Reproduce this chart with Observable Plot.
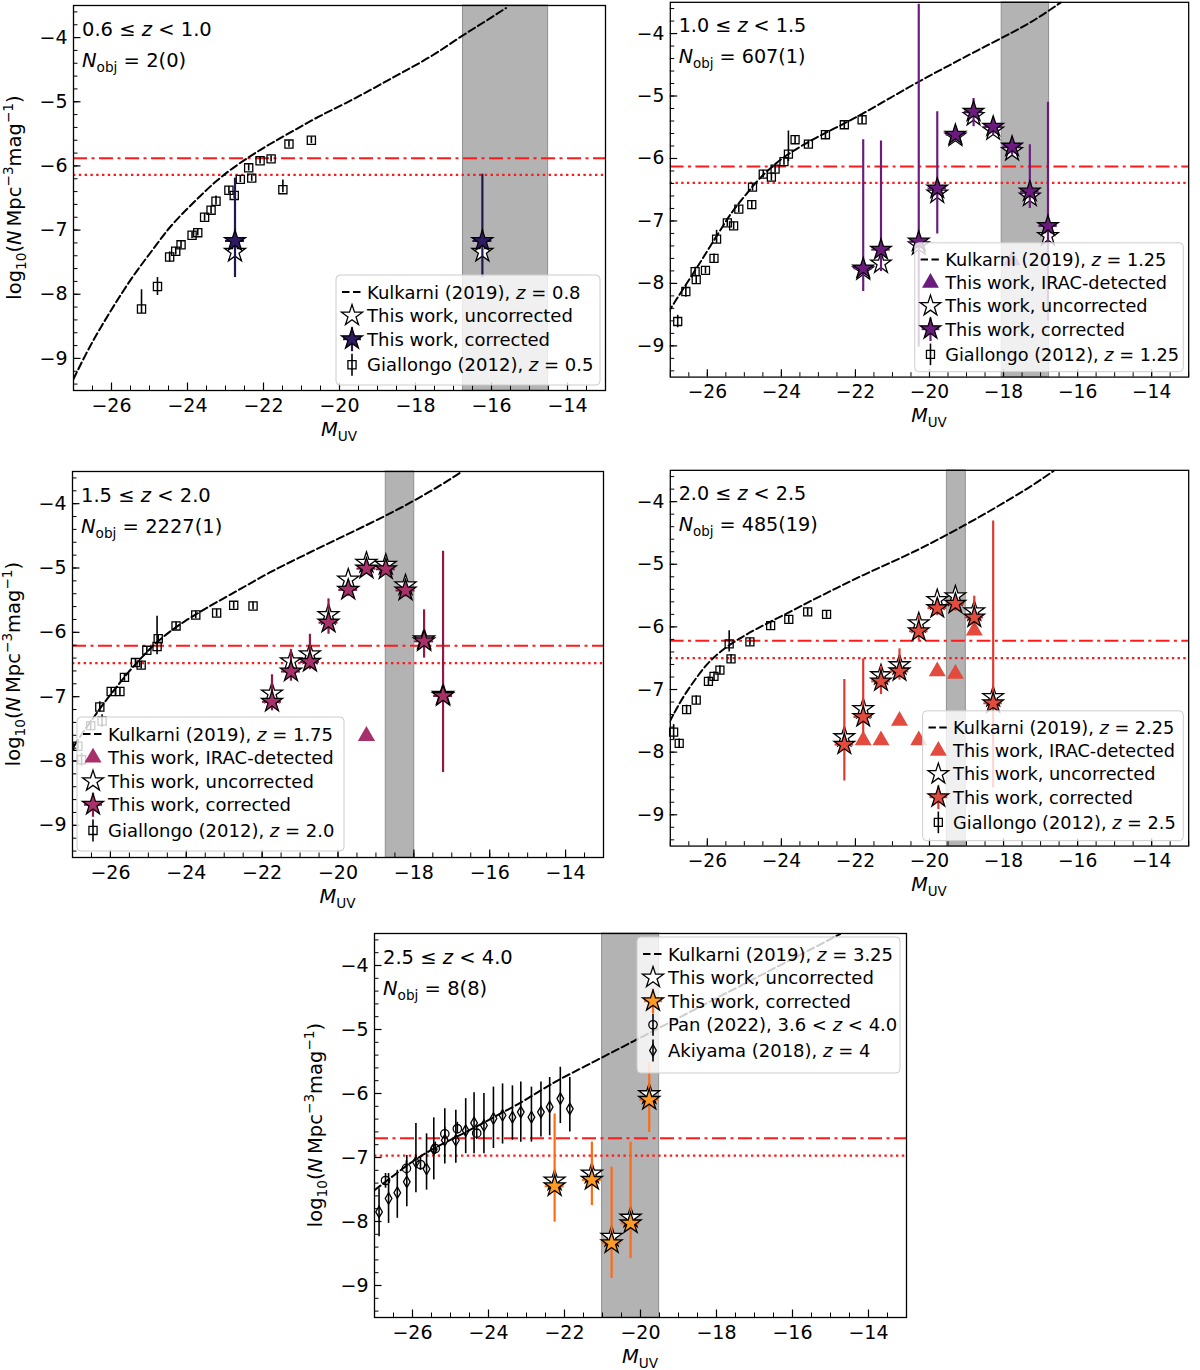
<!DOCTYPE html>
<html><head><meta charset="utf-8">
<script src="https://cdn.jsdelivr.net/npm/d3@7"></script>
<script src="https://cdn.jsdelivr.net/npm/@observablehq/plot@0.6"></script>
<style>
body{margin:0;background:#fff;overflow:hidden}
#root{position:relative;width:1200px;height:1370px;background:#fff}
.panel{position:absolute}
</style></head><body><div id="root"></div>
<script>
// ---------- axes ----------
const xMajor = [-26, -24, -22, -20, -18, -16, -14];
const yMajor = [-9, -8, -7, -6, -5, -4];
const xDomain = [-27, -13];
const yDomain = [-9.5, -3.5];
const binHalfWidth = 0.25;

// ---------- panel labels ----------
const zLo = ["0.6", "1.0", "1.5", "2.0", "2.5"];
const zHi = ["1.0", "1.5", "2.0", "2.5", "4.0"];
const nObj = ["2(0)", "607(1)", "2227(1)", "485(19)", "8(8)"];
const kulkarniZ = ["0.8", "1.25", "1.75", "2.25", "3.25"];
const giallongoZ = ["0.5", "1.25", "2.0", "2.5"];

// ---------- Kulkarni (2019) model curves [M, log phi] ----------
const p1Kulkarni = [[-27.0,-9.32],[-26.66,-8.91],[-26.30,-8.53],[-25.90,-8.14],[-25.40,-7.68],[-24.89,-7.29],[-24.49,-6.96],[-23.98,-6.65],[-23.58,-6.42],[-23.15,-6.18],[-22.47,-5.89],[-21.87,-5.67],[-21.26,-5.47],[-20.56,-5.23],[-19.85,-5.03],[-19.04,-4.77],[-18.34,-4.54],[-17.53,-4.28],[-16.83,-3.99],[-16.22,-3.77],[-15.62,-3.54]];
const p2Kulkarni = [[-27.06,-8.47],[-26.84,-8.26],[-26.58,-8.02],[-26.27,-7.74],[-25.97,-7.45],[-25.66,-7.16],[-25.36,-6.87],[-25.00,-6.61],[-24.65,-6.35],[-24.24,-6.12],[-23.83,-5.93],[-23.32,-5.75],[-22.81,-5.59],[-22.30,-5.44],[-21.79,-5.28],[-21.03,-5.02],[-20.27,-4.76],[-19.50,-4.52],[-18.74,-4.28],[-17.72,-3.97],[-17.11,-3.77],[-16.45,-3.50]];
const p3Kulkarni = [[-26.96,-7.77],[-26.71,-7.54],[-26.45,-7.33],[-26.15,-7.08],[-25.85,-6.86],[-25.55,-6.63],[-25.19,-6.40],[-24.84,-6.18],[-24.44,-5.99],[-24.03,-5.82],[-23.63,-5.68],[-23.23,-5.54],[-22.52,-5.31],[-21.82,-5.07],[-21.06,-4.85],[-20.30,-4.63],[-19.55,-4.42],[-18.79,-4.20],[-18.29,-4.05],[-17.78,-3.88],[-17.28,-3.71],[-16.78,-3.52]];
const p4Kulkarni = [[-27.02,-7.52],[-26.84,-7.31],[-26.58,-7.05],[-26.27,-6.79],[-25.97,-6.56],[-25.56,-6.35],[-25.15,-6.19],[-24.70,-6.04],[-24.24,-5.90],[-23.73,-5.75],[-23.22,-5.59],[-22.51,-5.38],[-21.79,-5.17],[-21.03,-4.97],[-20.27,-4.76],[-19.76,-4.60],[-19.25,-4.44],[-18.48,-4.19],[-17.72,-3.92],[-17.21,-3.74],[-16.65,-3.51]];
const p5Kulkarni = [[-27.0,-7.51],[-26.71,-7.38],[-26.45,-7.26],[-26.14,-7.12],[-25.82,-6.99],[-25.30,-6.81],[-24.78,-6.66],[-24.26,-6.50],[-23.74,-6.33],[-23.22,-6.17],[-22.70,-5.98],[-22.29,-5.83],[-21.87,-5.70],[-21.15,-5.48],[-20.63,-5.32],[-20.11,-5.16],[-19.59,-5.00],[-18.55,-4.68],[-17.51,-4.36],[-16.47,-4.04],[-15.43,-3.72],[-14.75,-3.51]];

// ---------- literature points [M, log phi, lower, upper] ----------
const p1Giallongo = [[-25.21,-8.23,-8.30,-7.93],[-24.79,-7.88,-8.02,-7.74],[-24.47,-7.42,-7.50,-7.34],[-24.31,-7.33,-7.39,-7.27],[-24.17,-7.23,-7.29,-7.17],[-23.88,-7.08,-7.13,-7.03],[-23.73,-7.04,-7.09,-6.99],[-23.55,-6.80,-6.86,-6.74],[-23.38,-6.69,-6.75,-6.63],[-23.25,-6.55,-6.61,-6.47],[-22.91,-6.38,-6.44,-6.32],[-22.77,-6.46,-6.51,-6.41],[-22.61,-6.21,-6.26,-6.16],[-22.39,-6.03,-6.08,-5.98],[-22.31,-6.19,-6.24,-6.14],[-22.09,-5.92,-5.97,-5.87],[-21.80,-5.89,-5.94,-5.84],[-21.49,-6.37,-6.42,-6.22],[-21.33,-5.66,-5.71,-5.61],[-20.74,-5.60,-5.65,-5.55]];
const p2Giallongo = [[-26.80,-8.61,-8.71,-8.51],[-26.58,-8.13,-8.22,-8.04],[-26.33,-7.81,-7.88,-7.74],[-26.30,-7.94,-8.01,-7.87],[-26.05,-7.79,-7.85,-7.73],[-25.82,-7.60,-7.67,-7.53],[-25.75,-7.29,-7.36,-7.15],[-25.46,-7.03,-7.09,-6.97],[-25.29,-7.08,-7.14,-7.02],[-25.15,-6.81,-6.87,-6.75],[-24.80,-6.74,-6.80,-6.68],[-24.78,-6.46,-6.52,-6.40],[-24.49,-6.25,-6.31,-6.19],[-24.27,-6.30,-6.36,-6.24],[-24.17,-6.17,-6.23,-6.11],[-23.93,-6.05,-6.11,-5.99],[-23.81,-5.93,-6.05,-5.56],[-23.63,-5.70,-5.76,-5.64],[-23.27,-5.77,-5.83,-5.71],[-22.81,-5.62,-5.68,-5.56],[-22.30,-5.46,-5.52,-5.40],[-21.82,-5.38,-5.45,-5.30]];
const p3Giallongo = [[-26.86,-7.77,-7.85,-7.69],[-26.76,-7.98,-8.08,-7.88],[-26.52,-7.45,-7.53,-7.37],[-26.28,-7.16,-7.24,-7.08],[-26.22,-7.38,-7.48,-7.28],[-25.98,-6.92,-6.98,-6.86],[-25.75,-6.92,-6.98,-6.86],[-25.63,-6.70,-6.76,-6.64],[-25.34,-6.47,-6.53,-6.41],[-25.19,-6.51,-6.57,-6.45],[-25.04,-6.28,-6.34,-6.22],[-24.77,-6.22,-6.35,-5.75],[-24.74,-6.10,-6.16,-6.04],[-24.27,-5.90,-5.96,-5.84],[-23.75,-5.73,-5.79,-5.67],[-23.20,-5.70,-5.76,-5.64],[-22.75,-5.58,-5.64,-5.52],[-22.24,-5.59,-5.65,-5.53]];
const p4Giallongo = [[-26.91,-7.68,-7.80,-7.56],[-26.76,-7.86,-7.93,-7.79],[-26.56,-7.32,-7.39,-7.25],[-26.30,-7.17,-7.24,-7.10],[-25.97,-6.87,-6.94,-6.80],[-25.82,-6.79,-6.86,-6.72],[-25.66,-6.69,-6.76,-6.62],[-25.36,-6.51,-6.58,-6.44],[-25.41,-6.27,-6.40,-6.06],[-24.85,-6.24,-6.30,-6.18],[-24.29,-5.98,-6.04,-5.92],[-23.80,-5.88,-5.94,-5.82],[-23.29,-5.76,-5.82,-5.70],[-22.78,-5.80,-5.86,-5.74]];
const p5Pan = [[-26.71,-7.36,-7.48,-7.25],[-26.16,-7.17,-7.28,-7.05],[-25.79,-7.11,-7.20,-7.00],[-25.40,-6.86,-6.95,-6.76],[-25.15,-6.63,-6.72,-6.53],[-24.82,-6.55,-6.63,-6.45],[-24.31,-6.62,-6.72,-6.52]];
const p5Akiyama = [[-26.88,-7.85,-8.24,-7.49],[-26.63,-7.64,-8.03,-7.25],[-26.40,-7.55,-7.95,-7.20],[-26.15,-7.38,-7.77,-6.97],[-25.91,-7.07,-7.55,-6.47],[-25.63,-7.18,-7.51,-6.63],[-25.44,-6.87,-7.35,-6.38],[-25.15,-6.73,-7.10,-6.24],[-24.86,-6.73,-7.09,-6.26],[-24.60,-6.58,-6.94,-6.08],[-24.38,-6.46,-6.94,-5.99],[-24.12,-6.50,-6.94,-6.00],[-23.87,-6.39,-6.86,-5.90],[-23.63,-6.34,-6.79,-5.85],[-23.37,-6.37,-6.73,-5.88],[-23.15,-6.29,-6.76,-5.82],[-22.87,-6.37,-6.76,-5.90],[-22.62,-6.29,-6.68,-5.82],[-22.39,-6.21,-6.66,-5.75],[-22.11,-6.08,-6.47,-5.59],[-21.86,-6.24,-6.60,-5.75]];

// ---------- This work ----------
const p1StarX = [-22.75, -16.24];
const p1Corr = [-7.17, -7.17];
const p1Uncorr = [-7.34, -7.34];
const p1Lo = [-7.74, -7.74];
const p1Hi = [-6.19, -6.13];
const p1Irac = [];

const p2StarX = [-21.79,-21.31,-20.29,-19.79,-19.30,-18.81,-18.28,-17.77,-17.29,-16.80];
const p2Corr = [-7.76,-7.46,-7.33,-6.48,-5.62,-5.25,-5.49,-5.81,-6.53,-7.08];
const p2Uncorr = [-7.79,-7.68,-7.39,-6.56,-5.65,-5.32,-5.55,-5.88,-6.61,-7.24];
const p2Lo = [-8.13,-7.81,-9.02,-7.21,-5.70,-5.49,-5.62,-5.95,-6.80,-8.60];
const p2Hi = [-5.70,-5.72,-3.53,-5.25,-5.55,-5.04,-5.38,-5.70,-5.78,-5.10];
const p2Irac = [[-17.77,-7.63]];

const p3StarX = [-21.74,-21.24,-20.74,-20.25,-19.73,-19.25,-18.74,-18.22,-17.73,-17.23];
const p3Corr = [-7.08,-6.61,-6.46,-5.85,-5.34,-5.01,-5.02,-5.35,-6.14,-6.99];
const p3Uncorr = [-6.95,-6.45,-6.34,-5.73,-5.18,-4.92,-4.95,-5.27,-6.11,-6.97];
const p3Lo = [-7.22,-6.76,-6.58,-6.03,-5.44,-5.08,-5.10,-5.45,-6.40,-8.18];
const p3Hi = [-6.66,-6.27,-6.03,-5.48,-5.20,-4.88,-4.90,-5.20,-5.65,-4.74];
const p3Irac = [[-19.25,-7.61]];

const p4StarX = [-22.30,-21.79,-21.31,-20.81,-20.29,-19.79,-19.30,-18.79,-18.28];
const p4Corr = [-7.88,-7.44,-6.87,-6.71,-6.07,-5.70,-5.63,-5.85,-7.22];
const p4Uncorr = [-7.76,-7.31,-6.77,-6.61,-5.94,-5.57,-5.51,-5.75,-7.12];
const p4Lo = [-8.46,-7.70,-7.08,-6.85,-6.22,-5.82,-5.75,-6.00,-8.57];
const p4Hi = [-6.84,-6.51,-6.63,-6.35,-5.82,-5.55,-5.50,-5.51,-4.31];
const p4Irac = [[-21.79,-7.81],[-21.31,-7.81],[-20.81,-7.50],[-20.29,-7.81],[-19.79,-6.71],[-19.30,-6.75],[-18.79,-6.06]];

const p5StarX = [-22.26,-21.28,-20.76,-20.26,-19.77];
const p5Corr = [-7.45,-7.35,-8.34,-8.03,-6.10];
const p5Uncorr = [-7.36,-7.25,-8.24,-7.94,-6.01];
const p5Lo = [-8.01,-7.75,-8.89,-8.58,-6.61];
const p5Hi = [-6.32,-6.76,-7.15,-6.76,-5.52];
const p5Irac = [];

// ---------- completeness limits (dash-dot, dotted) and shaded bands ----------
const limitsDashDot = [-5.88, -6.13, -6.21, -6.22, -6.70];
const limitsDotted = [-6.14, -6.39, -6.48, -6.50, -6.97];
const bandLo = [-16.75, -18.05, -18.74, -19.53, -21.01];
const bandHi = [-14.51, -16.77, -17.99, -19.02, -19.51];

// ---------- colours ----------
const starFill = ["#2e1a63", "#6b1a7e", "#a8306b", "#e24b3e", "#ff9a25"];
const errColor = ["#241552", "#6b1a7e", "#8d1b47", "#e0382f", "#ff6a12"];

// ---------- layout (pixel frames, legend boxes) ----------
const frames = [
  {l: 73, t: 5, w: 532, h: 385},
  {l: 671, t: 2, w: 527, h: 381},
  {l: 72, t: 471, w: 531, h: 386},
  {l: 671, t: 470, w: 527, h: 382},
  {l: 374, t: 933, w: 532, h: 384}
];
const legendBoxes = [
  {x: 336, y: 275, w: 264, h: 110},
  {x: 920, y: 247, w: 273, h: 131},
  {x: 77, y: 717, w: 267, h: 134},
  {x: 928, y: 715, w: 265, h: 132},
  {x: 637, y: 937, w: 263, h: 136}
];

const FONT = "DejaVu Sans, sans-serif";
const minus = d => (d < 0 ? "\u2212" + Math.abs(d) : String(d));
const rows4 = (a) => a.map(d => ({x: d[0], y: d[1], lo: d[2], hi: d[3]}));

function starRows(X, C, U, L, H) {
  return X.map((x, i) => ({x, c: C[i], u: U[i], lo: L[i], hi: H[i]}));
}

const SQ_R = 4.6, CIRC_R = 4.2, DIAM_R = 3.5;
const refsFor = [
  [{data: p1Giallongo, symbol: "square", r: SQ_R}],
  [{data: p2Giallongo, symbol: "square", r: SQ_R}],
  [{data: p3Giallongo, symbol: "square", r: SQ_R}],
  [{data: p4Giallongo, symbol: "square", r: SQ_R}],
  [{data: p5Pan, symbol: "circle", r: CIRC_R}, {data: p5Akiyama, symbol: "diamond", r: DIAM_R}]
];
const kulFor = [p1Kulkarni, p2Kulkarni, p3Kulkarni, p4Kulkarni, p5Kulkarni];
const starsFor = [
  starRows(p1StarX, p1Corr, p1Uncorr, p1Lo, p1Hi),
  starRows(p2StarX, p2Corr, p2Uncorr, p2Lo, p2Hi),
  starRows(p3StarX, p3Corr, p3Uncorr, p3Lo, p3Hi),
  starRows(p4StarX, p4Corr, p4Uncorr, p4Lo, p4Hi),
  starRows(p5StarX, p5Corr, p5Uncorr, p5Lo, p5Hi)
];
const iracFor = [p1Irac, p2Irac, p3Irac, p4Irac, p5Irac];

const zt = (pre, post) => [[pre, ""], ["z", "i"], [post, ""]];
const legendsFor = [
  [["dash", zt("Kulkarni (2019), ", " = " + kulkarniZ[0])], ["starU", [["This work, uncorrected", ""]]], ["starC", [["This work, corrected", ""]]], ["square", zt("Giallongo (2012), ", " = " + giallongoZ[0])]],
  [["dash", zt("Kulkarni (2019), ", " = " + kulkarniZ[1])], ["tri", [["This work, IRAC-detected", ""]]], ["starU", [["This work, uncorrected", ""]]], ["starC", [["This work, corrected", ""]]], ["square", zt("Giallongo (2012), ", " = " + giallongoZ[1])]],
  [["dash", zt("Kulkarni (2019), ", " = " + kulkarniZ[2])], ["tri", [["This work, IRAC-detected", ""]]], ["starU", [["This work, uncorrected", ""]]], ["starC", [["This work, corrected", ""]]], ["square", zt("Giallongo (2012), ", " = " + giallongoZ[2])]],
  [["dash", zt("Kulkarni (2019), ", " = " + kulkarniZ[3])], ["tri", [["This work, IRAC-detected", ""]]], ["starU", [["This work, uncorrected", ""]]], ["starC", [["This work, corrected", ""]]], ["square", zt("Giallongo (2012), ", " = " + giallongoZ[3])]],
  [["dash", zt("Kulkarni (2019), ", " = " + kulkarniZ[4])], ["starU", [["This work, uncorrected", ""]]], ["starC", [["This work, corrected", ""]]], ["circle", [["Pan (2022), 3.6 < ", ""], ["z", "i"], [" < 4.0", ""]]], ["diamond", zt("Akiyama (2018), ", " = 4")]]
];
const hasYLabel = [true, false, true, false, true];

function rich(textSel, parts, size) {
  let cur = 0;
  parts.forEach(([t, m]) => {
    const ts = textSel.append("tspan").text(t);
    let off = 0, fs = size;
    if (m === "sub") { off = 0.26 * size; fs = 0.7 * size; }
    else if (m === "sup") { off = -0.42 * size; fs = 0.7 * size; }
    if (off - cur !== 0) ts.attr("dy", off - cur);
    cur = off;
    ts.attr("font-size", fs);
    if (m === "i") ts.attr("font-style", "italic");
  });
}

const STAR_R = 6.6, TRI_R = 6.4;
const symPath = (type, r) => d3.symbol(type, Math.PI * r * r)();

const root = document.getElementById("root");
const ML = 73, MT = 10, MR = 12, MB = 55;

frames.forEach((f, k) => {
  const stars = starsFor[k];
  const marks = [
    Plot.rect([[bandLo[k], bandHi[k]]], {x1: d => d[0], x2: d => d[1], y1: yDomain[0], y2: yDomain[1], fill: "#b3b3b3", stroke: "#8f8f8f", strokeWidth: 1}),
    Plot.ruleY([limitsDashDot[k]], {y: d => d, stroke: "#ff1a1a", strokeWidth: 2, strokeDasharray: "14,4.5,3,4.5"}),
    Plot.ruleY([limitsDotted[k]], {y: d => d, stroke: "#ff1a1a", strokeWidth: 2.2, strokeDasharray: "2.4,3.4"}),
    Plot.line(kulFor[k], {x: d => d[0], y: d => d[1], stroke: "black", strokeWidth: 2, strokeDasharray: "7.5,3.5", curve: "basis", clip: true})
  ];
  refsFor[k].forEach(ref => {
    const rr = rows4(ref.data);
    marks.push(Plot.ruleX(rr, {x: "x", y1: "lo", y2: "hi", stroke: "black", strokeWidth: 1.6}));
    marks.push(Plot.dot(rr, {x: "x", y: "y", symbol: ref.symbol, r: ref.r, fill: "none", stroke: "black", strokeWidth: 1.3}));
  });
  if (iracFor[k].length) {
    marks.push(Plot.dot(iracFor[k], {x: d => d[0], y: d => d[1], symbol: "triangle", r: TRI_R, fill: starFill[k], stroke: "none"}));
  }
  marks.push(
    Plot.dot(stars, {x: "x", y: "u", symbol: "star", r: STAR_R, fill: "white", stroke: "black", strokeWidth: 1.3}),
    Plot.ruleX(stars, {x: "x", y1: "lo", y2: "hi", stroke: errColor[k], strokeWidth: 2.2, clip: true}),
    Plot.ruleY(stars, {y: "c", x1: d => d.x - binHalfWidth, x2: d => d.x + binHalfWidth, stroke: errColor[k], strokeWidth: 2}),
    Plot.dot(stars, {x: "x", y: "c", symbol: "star", r: STAR_R, fill: starFill[k], stroke: "black", strokeWidth: 1.3}),
    // inward ticks
    Plot.ruleX(d3.range(-27, -12.99, 0.5), {x: d => d, insetTop: f.h - 4.5, stroke: "black", strokeWidth: 1}),
    Plot.ruleX(xMajor, {x: d => d, insetTop: f.h - 7.5, stroke: "black", strokeWidth: 1.2}),
    Plot.ruleY(d3.range(-9.4, -3.55, 0.2), {y: d => d, insetRight: f.w - 4.5, stroke: "black", strokeWidth: 1}),
    Plot.ruleY(yMajor, {y: d => d, insetRight: f.w - 7.5, stroke: "black", strokeWidth: 1.2}),
    Plot.frame({stroke: "black", strokeWidth: 1.3}),
    Plot.axisX({ticks: xMajor, tickSize: 0, tickPadding: 8, tickFormat: minus, fontSize: 19, label: null}),
    Plot.axisY({ticks: yMajor, tickSize: 0, tickPadding: 6, tickFormat: minus, fontSize: 19, label: null})
  );

  const svg = Plot.plot({
    width: f.w + ML + MR, height: f.h + MT + MB,
    marginLeft: ML, marginTop: MT, marginRight: MR, marginBottom: MB,
    x: {domain: xDomain}, y: {domain: yDomain},
    style: {fontFamily: FONT, fontSize: "19px", background: "transparent", overflow: "visible", color: "black"},
    marks
  });
  const div = document.createElement("div");
  div.className = "panel";
  div.style.left = (f.l - ML) + "px";
  div.style.top = (f.t - MT) + "px";
  div.appendChild(svg);
  root.appendChild(div);

  const g = d3.select(svg);
  const fx = ML, fy = MT;
  // annotations
  const a1 = g.append("text").attr("x", fx + 9).attr("y", fy + 31).attr("text-anchor", "start").attr("font-family", FONT).attr("fill", "black");
  rich(a1, [[zLo[k] + " \u2264 ", ""], ["z", "i"], [" < " + zHi[k], ""]], 19.5);
  const a2 = g.append("text").attr("x", fx + 9).attr("y", fy + 62).attr("text-anchor", "start").attr("font-family", FONT).attr("fill", "black");
  rich(a2, [["N", "i"], ["obj", "sub"], [" = " + nObj[k], ""]], 19.5);
  // x label
  const xl = g.append("text").attr("x", fx + f.w / 2).attr("y", fy + f.h + 46).attr("text-anchor", "middle").attr("font-family", FONT).attr("fill", "black");
  rich(xl, [["M", "i"], ["UV", "sub"]], 19.5);
  // y label
  if (hasYLabel[k]) {
    const yx = fx - 52, yy = fy + f.h / 2;
    const yl = g.append("text").attr("x", yx).attr("y", yy).attr("text-anchor", "middle").attr("transform", `rotate(-90,${yx},${yy})`).attr("font-family", FONT).attr("fill", "black");
    rich(yl, [["log", ""], ["10", "sub"], ["(", ""], ["N", "i"], ["\u2009Mpc", ""], ["\u22123", "sup"], ["mag", ""], ["\u22121", "sup"], [")", ""]], 19.5);
  }
  // legend
  const b = legendBoxes[k];
  const ox = b.x - (f.l - ML), oy = b.y - (f.t - MT);
  const lg = g.append("g");
  lg.append("rect").attr("x", ox).attr("y", oy).attr("width", b.w).attr("height", b.h).attr("rx", 4)
    .attr("fill", "white").attr("fill-opacity", 0.8).attr("stroke", "#cccccc").attr("stroke-width", 1);
  const items = legendsFor[k];
  items.forEach(([type, parts], i) => {
    const cy = oy + 17 + 23.6 * i + (i === items.length - 1 ? 2 : 0);
    const mx = ox + 16;
    if (type === "dash") {
      lg.append("line").attr("x1", mx - 10).attr("x2", mx + 10).attr("y1", cy).attr("y2", cy)
        .attr("stroke", "black").attr("stroke-width", 2).attr("stroke-dasharray", "7.5,3.5");
    } else if (type === "tri") {
      lg.append("path").attr("d", symPath(d3.symbolTriangle, TRI_R)).attr("transform", `translate(${mx},${cy})`).attr("fill", starFill[k]);
    } else if (type === "starU") {
      lg.append("path").attr("d", symPath(d3.symbolStar, STAR_R)).attr("transform", `translate(${mx},${cy})`).attr("fill", "white").attr("stroke", "black").attr("stroke-width", 1.3);
    } else if (type === "starC") {
      lg.append("line").attr("x1", mx).attr("x2", mx).attr("y1", cy - 12).attr("y2", cy + 12).attr("stroke", errColor[k]).attr("stroke-width", 2.2);
      lg.append("line").attr("x1", mx - 9).attr("x2", mx + 9).attr("y1", cy).attr("y2", cy).attr("stroke", errColor[k]).attr("stroke-width", 2);
      lg.append("path").attr("d", symPath(d3.symbolStar, STAR_R)).attr("transform", `translate(${mx},${cy})`).attr("fill", starFill[k]).attr("stroke", "black").attr("stroke-width", 1.3);
    } else {
      const t = type === "square" ? d3.symbolSquare : type === "circle" ? d3.symbolCircle : d3.symbolDiamond;
      const r = type === "square" ? SQ_R : type === "circle" ? CIRC_R : DIAM_R;
      lg.append("line").attr("x1", mx).attr("x2", mx).attr("y1", cy - 11).attr("y2", cy + 11).attr("stroke", "black").attr("stroke-width", 1.6);
      lg.append("path").attr("d", symPath(t, r)).attr("transform", `translate(${mx},${cy})`).attr("fill", "none").attr("stroke", "black").attr("stroke-width", 1.3);
    }
    const tx = lg.append("text").attr("x", ox + 31).attr("y", cy + 6.5).attr("text-anchor", "start").attr("font-family", FONT).attr("fill", "black");
    rich(tx, parts, 18);
  });
});
</script></body></html>
